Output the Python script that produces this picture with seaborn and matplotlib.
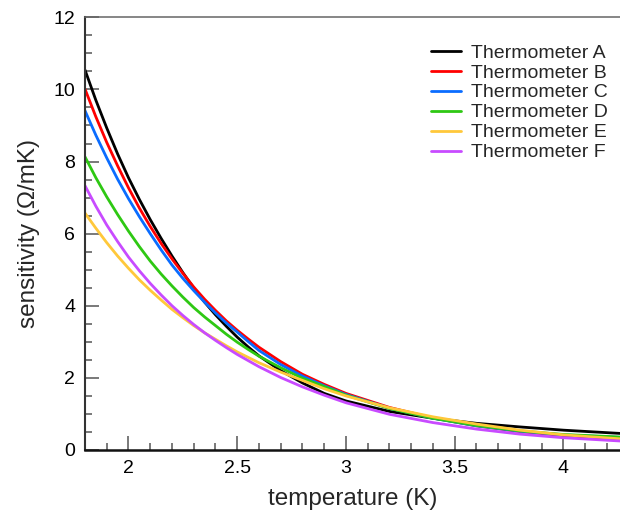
import matplotlib
matplotlib.use("Agg")
import matplotlib.pyplot as plt
from matplotlib.ticker import MultipleLocator
import pandas as pd
import seaborn as sns

# Temperature grid (K) and sensitivity (Ohm/mK) for each thermometer
temperature = [1.8, 1.85, 1.9, 1.95, 2.0, 2.05, 2.1, 2.15, 2.2, 2.25, 2.3, 2.35, 2.4,
               2.45, 2.5, 2.55, 2.6, 2.7, 2.8, 2.9, 3.0, 3.2, 3.4, 3.6, 3.8, 4.0, 4.26]

sens_a = [10.54, 9.70, 8.93, 8.21, 7.55, 6.95, 6.39, 5.87, 5.38, 4.92, 4.49, 4.10, 3.75,
          3.43, 3.13, 2.86, 2.61, 2.20, 1.86, 1.57, 1.36, 1.07, 0.88, 0.74, 0.64, 0.55, 0.46]
sens_b = [10.01, 9.24, 8.53, 7.88, 7.27, 6.71, 6.20, 5.73, 5.30, 4.90, 4.52, 4.18, 3.87,
          3.58, 3.32, 3.08, 2.85, 2.45, 2.10, 1.82, 1.57, 1.18, 0.89, 0.67, 0.51, 0.40, 0.30]
sens_c = [9.41, 8.73, 8.10, 7.51, 6.97, 6.47, 6.00, 5.55, 5.13, 4.76, 4.42, 4.10, 3.80,
          3.52, 3.27, 3.01, 2.76, 2.37, 2.05, 1.78, 1.54, 1.16, 0.88, 0.67, 0.52, 0.42, 0.35]
sens_d = [8.13, 7.55, 7.02, 6.53, 6.07, 5.64, 5.24, 4.88, 4.55, 4.24, 3.95, 3.69, 3.45,
          3.21, 2.99, 2.79, 2.60, 2.28, 1.99, 1.76, 1.52, 1.15, 0.88, 0.68, 0.53, 0.43, 0.36]
sens_e = [6.57, 6.15, 5.75, 5.38, 5.04, 4.72, 4.43, 4.16, 3.90, 3.67, 3.45, 3.25, 3.07,
          2.89, 2.72, 2.57, 2.42, 2.16, 1.93, 1.70, 1.50, 1.17, 0.92, 0.72, 0.55, 0.42, 0.31]
sens_f = [7.33, 6.76, 6.24, 5.78, 5.35, 4.97, 4.62, 4.30, 4.00, 3.73, 3.48, 3.25, 3.04,
          2.84, 2.65, 2.48, 2.31, 2.01, 1.75, 1.52, 1.31, 0.99, 0.76, 0.58, 0.44, 0.34, 0.25]

labels = ["Thermometer A", "Thermometer B", "Thermometer C",
          "Thermometer D", "Thermometer E", "Thermometer F"]
colors = ["#000000", "#ff0000", "#0a6cff", "#2ec813", "#ffc83a", "#c84bff"]

series = [sens_a, sens_b, sens_c, sens_d, sens_e, sens_f]
df = pd.concat(
    [pd.DataFrame({"T": temperature, "S": s, "name": lab}) for s, lab in zip(series, labels)],
    ignore_index=True,
)

sns.set_theme(style="ticks")
plt.rcParams["font.family"] = ["Liberation Sans", "DejaVu Sans"]

fig = plt.figure(figsize=(6.2, 5.12), dpi=100)
ax = fig.add_axes([85 / 620, 1 - 450 / 512, 1 - 85 / 620, (450 - 17.3) / 512])

sns.lineplot(data=df, x="T", y="S", hue="name", palette=dict(zip(labels, colors)),
             estimator=None, sort=False, linewidth=2.0, ax=ax, legend=False)

ax.set_xlim(1.8, 4.26)
ax.set_ylim(0, 12)
ax.xaxis.set_minor_locator(MultipleLocator(0.1))
ax.yaxis.set_major_locator(MultipleLocator(2))
ax.yaxis.set_minor_locator(MultipleLocator(0.5))
ax.set_xticks([2, 2.5, 3, 3.5, 4])
ax.set_xticklabels(["2", "2.5", "3", "3.5", "4"])

ax.tick_params(which="both", direction="in", colors="#555555", labelcolor="black",
               labelsize=14, width=1.1, pad=7)
ax.tick_params(which="major", length=10)
ax.tick_params(which="minor", length=5.2)
ax.tick_params(axis="y", which="both", left=True, right=False)
ax.tick_params(axis="x", which="both", bottom=True, top=False)

ax.spines["right"].set_visible(False)
ax.spines["top"].set_color("#666666")
ax.spines["top"].set_linewidth(1.1)
ax.spines["left"].set_color("#333333")
ax.spines["left"].set_linewidth(1.5)
ax.spines["bottom"].set_color("#111111")
ax.spines["bottom"].set_linewidth(1.8)

ax.set_xlabel("temperature (K)", fontsize=17.5, labelpad=8)
ax.set_ylabel("sensitivity (\u03a9/mK)", fontsize=17.5, labelpad=10)

handles = [plt.Line2D([], [], color=c, lw=2.0) for c in colors]
fig.legend(handles, labels, loc="upper left", bbox_to_anchor=(431 / 620, 1 - 44 / 512),
           bbox_transform=fig.transFigure, frameon=False, fontsize=14,
           borderpad=0, borderaxespad=0, handlelength=1.55, handletextpad=0.5,
           labelspacing=0.12)

fig.savefig("out.png", dpi=100)
